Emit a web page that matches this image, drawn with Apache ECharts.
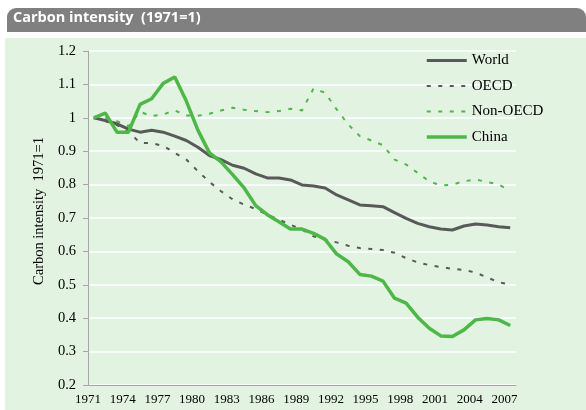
<!DOCTYPE html>
<html>
<head>
<meta charset="utf-8">
<script src="https://cdn.jsdelivr.net/npm/echarts@6/dist/echarts.min.js"></script>
<style>
  html, body { margin: 0; padding: 0; background: #ffffff; }
  #chart { width: 586px; height: 410px; }
</style>
</head>
<body>
<div id="chart"></div>
<script>
// Years on the category axis
const years = [];
for (let y = 1971; y <= 2007; y++) years.push(String(y));

// Carbon intensity indices (1971 = 1)
const world = [1.000, 0.992, 0.982, 0.966, 0.957, 0.963, 0.957, 0.945, 0.932, 0.912,
               0.887, 0.875, 0.858, 0.849, 0.832, 0.820, 0.820, 0.814, 0.799, 0.796,
               0.790, 0.769, 0.754, 0.739, 0.737, 0.734, 0.716, 0.699, 0.684, 0.674,
               0.667, 0.664, 0.676, 0.682, 0.679, 0.674, 0.671];

const oecd = [1.000, 0.990, 0.978, 0.958, 0.925, 0.924, 0.916, 0.895, 0.875, 0.840,
              0.808, 0.780, 0.756, 0.740, 0.727, 0.710, 0.695, 0.680, 0.665, 0.645,
              0.635, 0.627, 0.617, 0.610, 0.607, 0.604, 0.596, 0.580, 0.567, 0.559,
              0.553, 0.548, 0.544, 0.537, 0.522, 0.508, 0.500];

const nonOecd = [1.000, 1.000, 0.990, 0.975, 1.018, 1.005, 1.010, 1.022, 1.007, 1.006,
                 1.012, 1.022, 1.030, 1.024, 1.020, 1.017, 1.020, 1.027, 1.022, 1.088,
                 1.075, 1.025, 0.980, 0.945, 0.932, 0.918, 0.875, 0.860, 0.835, 0.810,
                 0.797, 0.800, 0.810, 0.815, 0.808, 0.800, 0.782];

const china = [1.000, 1.014, 0.957, 0.957, 1.040, 1.057, 1.103, 1.122, 1.050, 0.963,
               0.895, 0.868, 0.830, 0.790, 0.737, 0.710, 0.689, 0.667, 0.667, 0.654,
               0.636, 0.592, 0.569, 0.531, 0.526, 0.511, 0.460, 0.445, 0.403, 0.370,
               0.347, 0.345, 0.365, 0.395, 0.399, 0.395, 0.378];

const yTicks = { min: 0.2, max: 1.2, step: 0.1 };

const GREEN = '#4db848';
const GREY = '#595959';
const PANEL = '#e3f3e1';
const SERIF = '"Liberation Serif", "Times New Roman", serif';

const chart = echarts.init(document.getElementById('chart'), null, { renderer: 'canvas' });

chart.setOption({
  backgroundColor: '#ffffff',
  animation: false,
  graphic: [
    { type: 'rect', z: -10, silent: true,
      shape: { x: 5, y: 38, width: 581, height: 372 },
      style: { fill: PANEL } },
    { type: 'rect', z: -10, silent: true,
      shape: { x: 7, y: 8, width: 579, height: 24, r: [9, 9, 0, 0] },
      style: { fill: '#808080' } },
    { type: 'text', z: 10, silent: true,
      left: 13, top: 10,
      style: { text: 'Carbon intensity  (1971=1)', fill: '#ffffff',
               font: 'bold 14.5px "Open Sans", "Noto Sans", sans-serif' } }
  ],
  grid: { left: 88, top: 51, width: 428, height: 334, containLabel: false },
  legend: {
    orient: 'vertical',
    left: 420, top: 48,
    itemWidth: 40, itemHeight: 14, itemGap: 10.5,
    itemStyle: { opacity: 0 },
    lineStyle: { width: 'inherit' },
    textStyle: { fontFamily: SERIF, fontSize: 15, color: '#000' },
    data: ['World', 'OECD', 'Non-OECD', 'China']
  },
  xAxis: {
    type: 'category',
    data: years,
    boundaryGap: true,
    axisLine: { lineStyle: { color: '#a6a6a6', width: 1 } },
    axisTick: { interval: 2, length: 5, lineStyle: { color: '#a6a6a6' } },
    axisLabel: {
      interval: 2, margin: 8, padding: [0, 11.6, 0, 0],
      fontFamily: SERIF, fontSize: 13, color: '#000'
    },
    splitLine: { show: false }
  },
  yAxis: {
    type: 'value',
    min: yTicks.min, max: yTicks.max, interval: yTicks.step,
    name: 'Carbon intensity  1971=1',
    nameLocation: 'middle', nameGap: 41,
    nameTextStyle: { fontFamily: SERIF, fontSize: 14.5, color: '#000', padding: [0, 0, 0, 14] },
    axisLine: { show: true, lineStyle: { color: '#a6a6a6', width: 1 } },
    axisTick: { show: true, length: 5, lineStyle: { color: '#a6a6a6' } },
    axisLabel: {
      margin: 12, fontFamily: SERIF, fontSize: 14.5, color: '#000',
      formatter: v => String(+v.toFixed(1))
    },
    splitLine: { lineStyle: { color: '#ffffff', width: 1.5 } }
  },
  series: [
    { name: 'World', type: 'line', data: world, symbol: 'none', z: 3,
      lineStyle: { color: GREY, width: 3 }, itemStyle: { color: GREY } },
    { name: 'OECD', type: 'line', data: oecd, symbol: 'none', z: 2,
      lineStyle: { color: GREY, width: 2, type: [4, 7.5] }, itemStyle: { color: GREY } },
    { name: 'Non-OECD', type: 'line', data: nonOecd, symbol: 'none', z: 2,
      lineStyle: { color: GREEN, width: 2, type: [4, 7.5] }, itemStyle: { color: GREEN } },
    { name: 'China', type: 'line', data: china, symbol: 'none', z: 4,
      lineStyle: { color: GREEN, width: 3.5 }, itemStyle: { color: GREEN } }
  ]
});
</script>
</body>
</html>
